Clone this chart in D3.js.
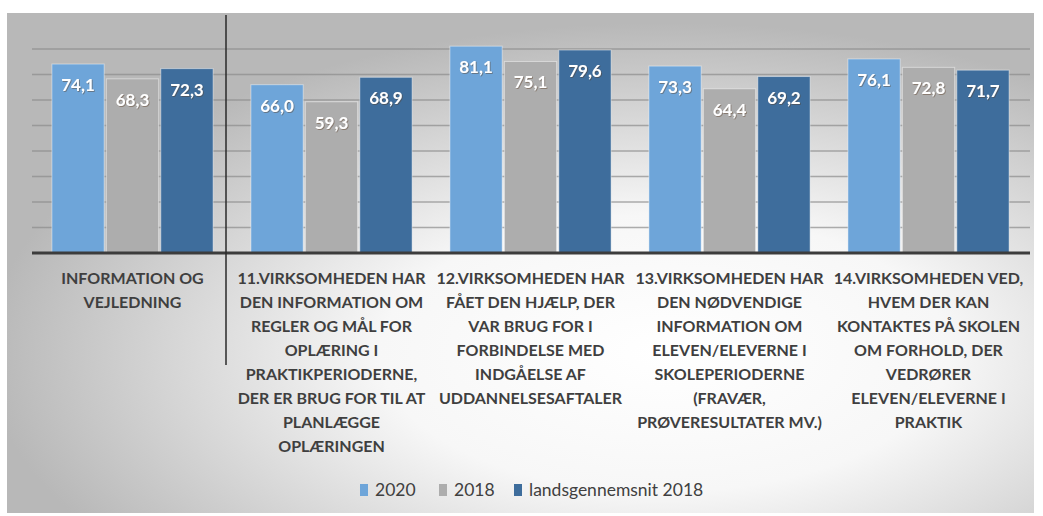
<!DOCTYPE html>
<html>
<head>
<meta charset="utf-8">
<script src="https://cdn.jsdelivr.net/npm/d3@7"></script>
<style>
  body { margin: 0; background: #fff; }
  svg { display: block; font-family: Lato, "Open Sans", sans-serif; }
</style>
</head>
<body>
<div id="chart"></div>
<script>

// categories, as the wrapped lines of each axis label
var categories = ["c1", "c11", "c12", "c13", "c14"];
var categoryLines = [
    ["INFORMATION OG", "VEJLEDNING"],
    ["11.VIRKSOMHEDEN HAR", "DEN INFORMATION OM", "REGLER OG MÅL FOR", "OPLÆRING I",
        "PRAKTIKPERIODERNE,", "DER ER BRUG FOR TIL AT", "PLANLÆGGE", "OPLÆRINGEN"],
    ["12.VIRKSOMHEDEN HAR", "FÅET DEN HJÆLP, DER", "VAR BRUG FOR I", "FORBINDELSE MED",
        "INDGÅELSE AF", "UDDANNELSESAFTALER"],
    ["13.VIRKSOMHEDEN HAR", "DEN NØDVENDIGE", "INFORMATION OM", "ELEVEN/ELEVERNE I",
        "SKOLEPERIODERNE", "(FRAVÆR,", "PRØVERESULTATER MV.)"],
    ["14.VIRKSOMHEDEN VED,", "HVEM DER KAN", "KONTAKTES PÅ SKOLEN", "OM FORHOLD, DER",
        "VEDRØRER", "ELEVEN/ELEVERNE I", "PRAKTIK"]
];

var seriesNames = ["2020", "2018", "landsgennemsnit 2018"];
var values2020 = [74.1, 66.0, 81.1, 73.3, 76.1];
var values2018 = [68.3, 59.3, 75.1, 64.4, 72.8];
var valuesLands = [72.3, 68.9, 79.6, 69.2, 71.7];
var gridTicks = [10, 20, 30, 40, 50, 60, 70, 80];

var colors = ["#6ea5d9", "#adadad", "#3e6d9c"];

var width = 1043, height = 516;

var svg = d3.select("#chart").append("svg")
    .attr("width", width)
    .attr("height", height);

var defs = svg.append("defs");
var grad = defs.append("radialGradient")
    .attr("id", "bg")
    .attr("cx", "64%").attr("cy", "68%")
    .attr("r", "66%");
grad.append("stop").attr("offset", "0%").attr("stop-color", "#ffffff");
grad.append("stop").attr("offset", "42%").attr("stop-color", "#f7f7f7");
grad.append("stop").attr("offset", "100%").attr("stop-color", "#b8b8b8");

var shadow = defs.append("filter").attr("id", "shadow")
    .attr("x", "-20%").attr("y", "-20%").attr("width", "140%").attr("height", "140%");
shadow.append("feDropShadow")
    .attr("dx", 0.8).attr("dy", 0.8).attr("stdDeviation", 0.4)
    .attr("flood-color", "#5a3a20").attr("flood-opacity", 0.55);

// chart area background
svg.append("rect")
    .attr("x", 7).attr("y", 13)
    .attr("width", 1027).attr("height", 500)
    .attr("fill", "url(#bg)");

var x = d3.scaleBand()
    .domain(categories)
    .range([32, 1029])
    .paddingInner(0.19)
    .paddingOuter(0.1);

var xInner = d3.scaleBand()
    .domain(seriesNames)
    .range([0, x.bandwidth()])
    .paddingInner(0.04);

var y = d3.scaleLinear()
    .domain([0, 90])
    .range([253, 23.5]);

// gridlines
svg.append("g")
    .selectAll("line")
    .data(gridTicks)
    .enter().append("line")
    .attr("x1", 32).attr("x2", 1030)
    .attr("y1", function (d) { return y(d); })
    .attr("y2", function (d) { return y(d); })
    .attr("stroke", "#8c8c8c")
    .attr("stroke-opacity", 0.7)
    .attr("stroke-width", 1.3);

var rows = categories.map(function (c, i) {
    return {
        cat: c,
        vals: [values2020[i], values2018[i], valuesLands[i]]
    };
});

var group = svg.append("g").selectAll(".group")
    .data(rows)
    .enter().append("g")
    .attr("class", "group")
    .attr("transform", function (d) {
        return "translate(" + x(d.cat) + ",0)";
    });

var bar = group.selectAll(".bar")
    .data(function (d) {
        return d.vals.map(function (v, k) {
            return { name: seriesNames[k], value: v, k: k };
        });
    })
    .enter().append("g")
    .attr("class", "bar");

bar.append("rect")
    .attr("x", function (d) { return xInner(d.name); })
    .attr("y", function (d) { return y(d.value); })
    .attr("width", xInner.bandwidth())
    .attr("height", function (d) { return y(0) - y(d.value); })
    .attr("fill", function (d) { return colors[d.k]; })
    .attr("stroke", "rgba(255,255,255,0.45)")
    .attr("stroke-width", 1);

bar.append("text")
    .attr("x", function (d) { return xInner(d.name) + xInner.bandwidth() / 2; })
    .attr("y", function (d) { return y(d.value) + 27; })
    .attr("text-anchor", "middle")
    .attr("fill", "#fff")
    .attr("font-size", "17px")
    .attr("font-weight", "bold")
    .attr("filter", "url(#shadow)")
    .text(function (d) { return d.value.toFixed(1).replace(".", ","); });

// baseline
svg.append("line")
    .attr("x1", 32).attr("x2", 1030)
    .attr("y1", y(0)).attr("y2", y(0))
    .attr("stroke", "#3c3c3c")
    .attr("stroke-width", 3);

// separator line after the first group
svg.append("line")
    .attr("x1", 226).attr("x2", 226)
    .attr("y1", 15).attr("y2", 365)
    .attr("stroke", "#2a2a2a")
    .attr("stroke-width", 1.5);

// category labels
var labels = svg.append("g").selectAll(".cat")
    .data(categories)
    .enter().append("text")
    .attr("class", "cat")
    .attr("text-anchor", "middle")
    .attr("fill", "#3f3f3f")
    .attr("font-size", "16px")
    .attr("font-weight", "bold");

labels.selectAll("tspan")
    .data(function (d, i) { return categoryLines[i].map(function (l) { return { line: l, cat: d }; }); })
    .enter().append("tspan")
    .attr("x", function (d) { return x(d.cat) + x.bandwidth() / 2; })
    .attr("y", function (d, j) { return 284 + j * 24; })
    .text(function (d) { return d.line; });

// legend
var legendX = [360, 439, 514];
var legend = svg.append("g").selectAll(".legend")
    .data(seriesNames)
    .enter().append("g")
    .attr("class", "legend")
    .attr("transform", function (d, i) { return "translate(" + legendX[i] + ",483)"; });

legend.append("rect")
    .attr("width", 8).attr("height", 12)
    .attr("y", 1)
    .attr("fill", function (d, i) { return colors[i]; });

legend.append("text")
    .attr("x", 15).attr("y", 13)
    .attr("fill", "#404040")
    .attr("font-size", "17.5px")
    .text(function (d) { return d; });

</script>
</body>
</html>
